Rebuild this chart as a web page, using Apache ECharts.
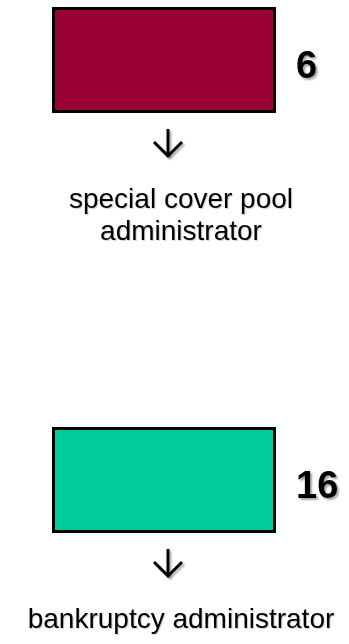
<!DOCTYPE html>
<html>
<head>
<meta charset="utf-8">
<script src="https://cdn.jsdelivr.net/npm/echarts@6/dist/echarts.min.js"></script>
<style>
  html, body { margin: 0; padding: 0; background: #fff; }
  #main { width: 349px; height: 644px; }
</style>
</head>
<body>
<div id="main"></div>
<script>
// roles, how many of each, box colours
var roles = ['special cover pool\nadministrator', 'bankruptcy administrator'];
var counts = [6, 16];
var boxColors = ['#990033', '#00CC99'];

var FONT = '"Liberation Sans", Arial, sans-serif';

var myChart = echarts.init(document.getElementById('main'));

var data1 = [];
for (var i = 0; i < roles.length; i++) {
    data1.push({ value: [0, i, counts[i]], itemStyle: { color: boxColors[i] } });
}

var renderItem = function (params, api) {
    var c = api.coord([api.value(0), api.value(1)]);
    var cx = c[0], cy = c[1];
    var idx = params.dataIndex;
    var ax = cx + 4;
    return {
        type: 'group',
        children: [
            {
                type: 'rect',
                shape: { x: cx - 110.5, y: cy - 51.5, width: 221, height: 103 },
                style: { fill: boxColors[idx], stroke: '#000', lineWidth: 3 }
            },
            {
                type: 'text',
                style: {
                    x: cx + 132, y: cy + 8,
                    text: String(api.value(2)),
                    font: 'bold 38px ' + FONT,
                    fill: '#000',
                    verticalAlign: 'middle',
                    align: 'left',
                    textShadowColor: 'rgba(0,0,0,0.35)',
                    textShadowOffsetX: 2,
                    textShadowOffsetY: 2,
                    textShadowBlur: 2
                }
            },
            {
                type: 'polyline',
                shape: { points: [[ax, cy + 69], [ax, cy + 96]] },
                style: {
                    stroke: '#000', lineWidth: 3, fill: null,
                    shadowColor: 'rgba(0,0,0,0.3)', shadowOffsetX: 2, shadowOffsetY: 2, shadowBlur: 2
                }
            },
            {
                type: 'polyline',
                shape: { points: [[ax - 14, cy + 82], [ax, cy + 96], [ax + 14, cy + 82]] },
                style: {
                    stroke: '#000', lineWidth: 3, fill: null,
                    shadowColor: 'rgba(0,0,0,0.3)', shadowOffsetX: 2, shadowOffsetY: 2, shadowBlur: 2
                }
            },
            {
                type: 'text',
                style: {
                    x: cx + 17, y: cy + 124,
                    text: roles[idx],
                    font: '28px ' + FONT,
                    lineHeight: 32,
                    fill: '#000',
                    align: 'center',
                    verticalAlign: 'top',
                    textShadowColor: 'rgba(0,0,0,0.2)',
                    textShadowOffsetX: 1,
                    textShadowOffsetY: 1,
                    textShadowBlur: 1
                }
            }
        ]
    };
};

option = {
    animation: false,
    backgroundColor: '#fff',
    grid: { left: 52, right: 73, top: 60, bottom: 164 },
    xAxis: {
        type: 'category',
        data: [''],
        show: false
    },
    yAxis: {
        type: 'category',
        data: roles,
        inverse: true,
        boundaryGap: false,
        show: false
    },
    series: [
        {
            type: 'custom',
            renderItem: renderItem,
            data: data1,
            clip: false
        }
    ]
};

myChart.setOption(option);
</script>
</body>
</html>
